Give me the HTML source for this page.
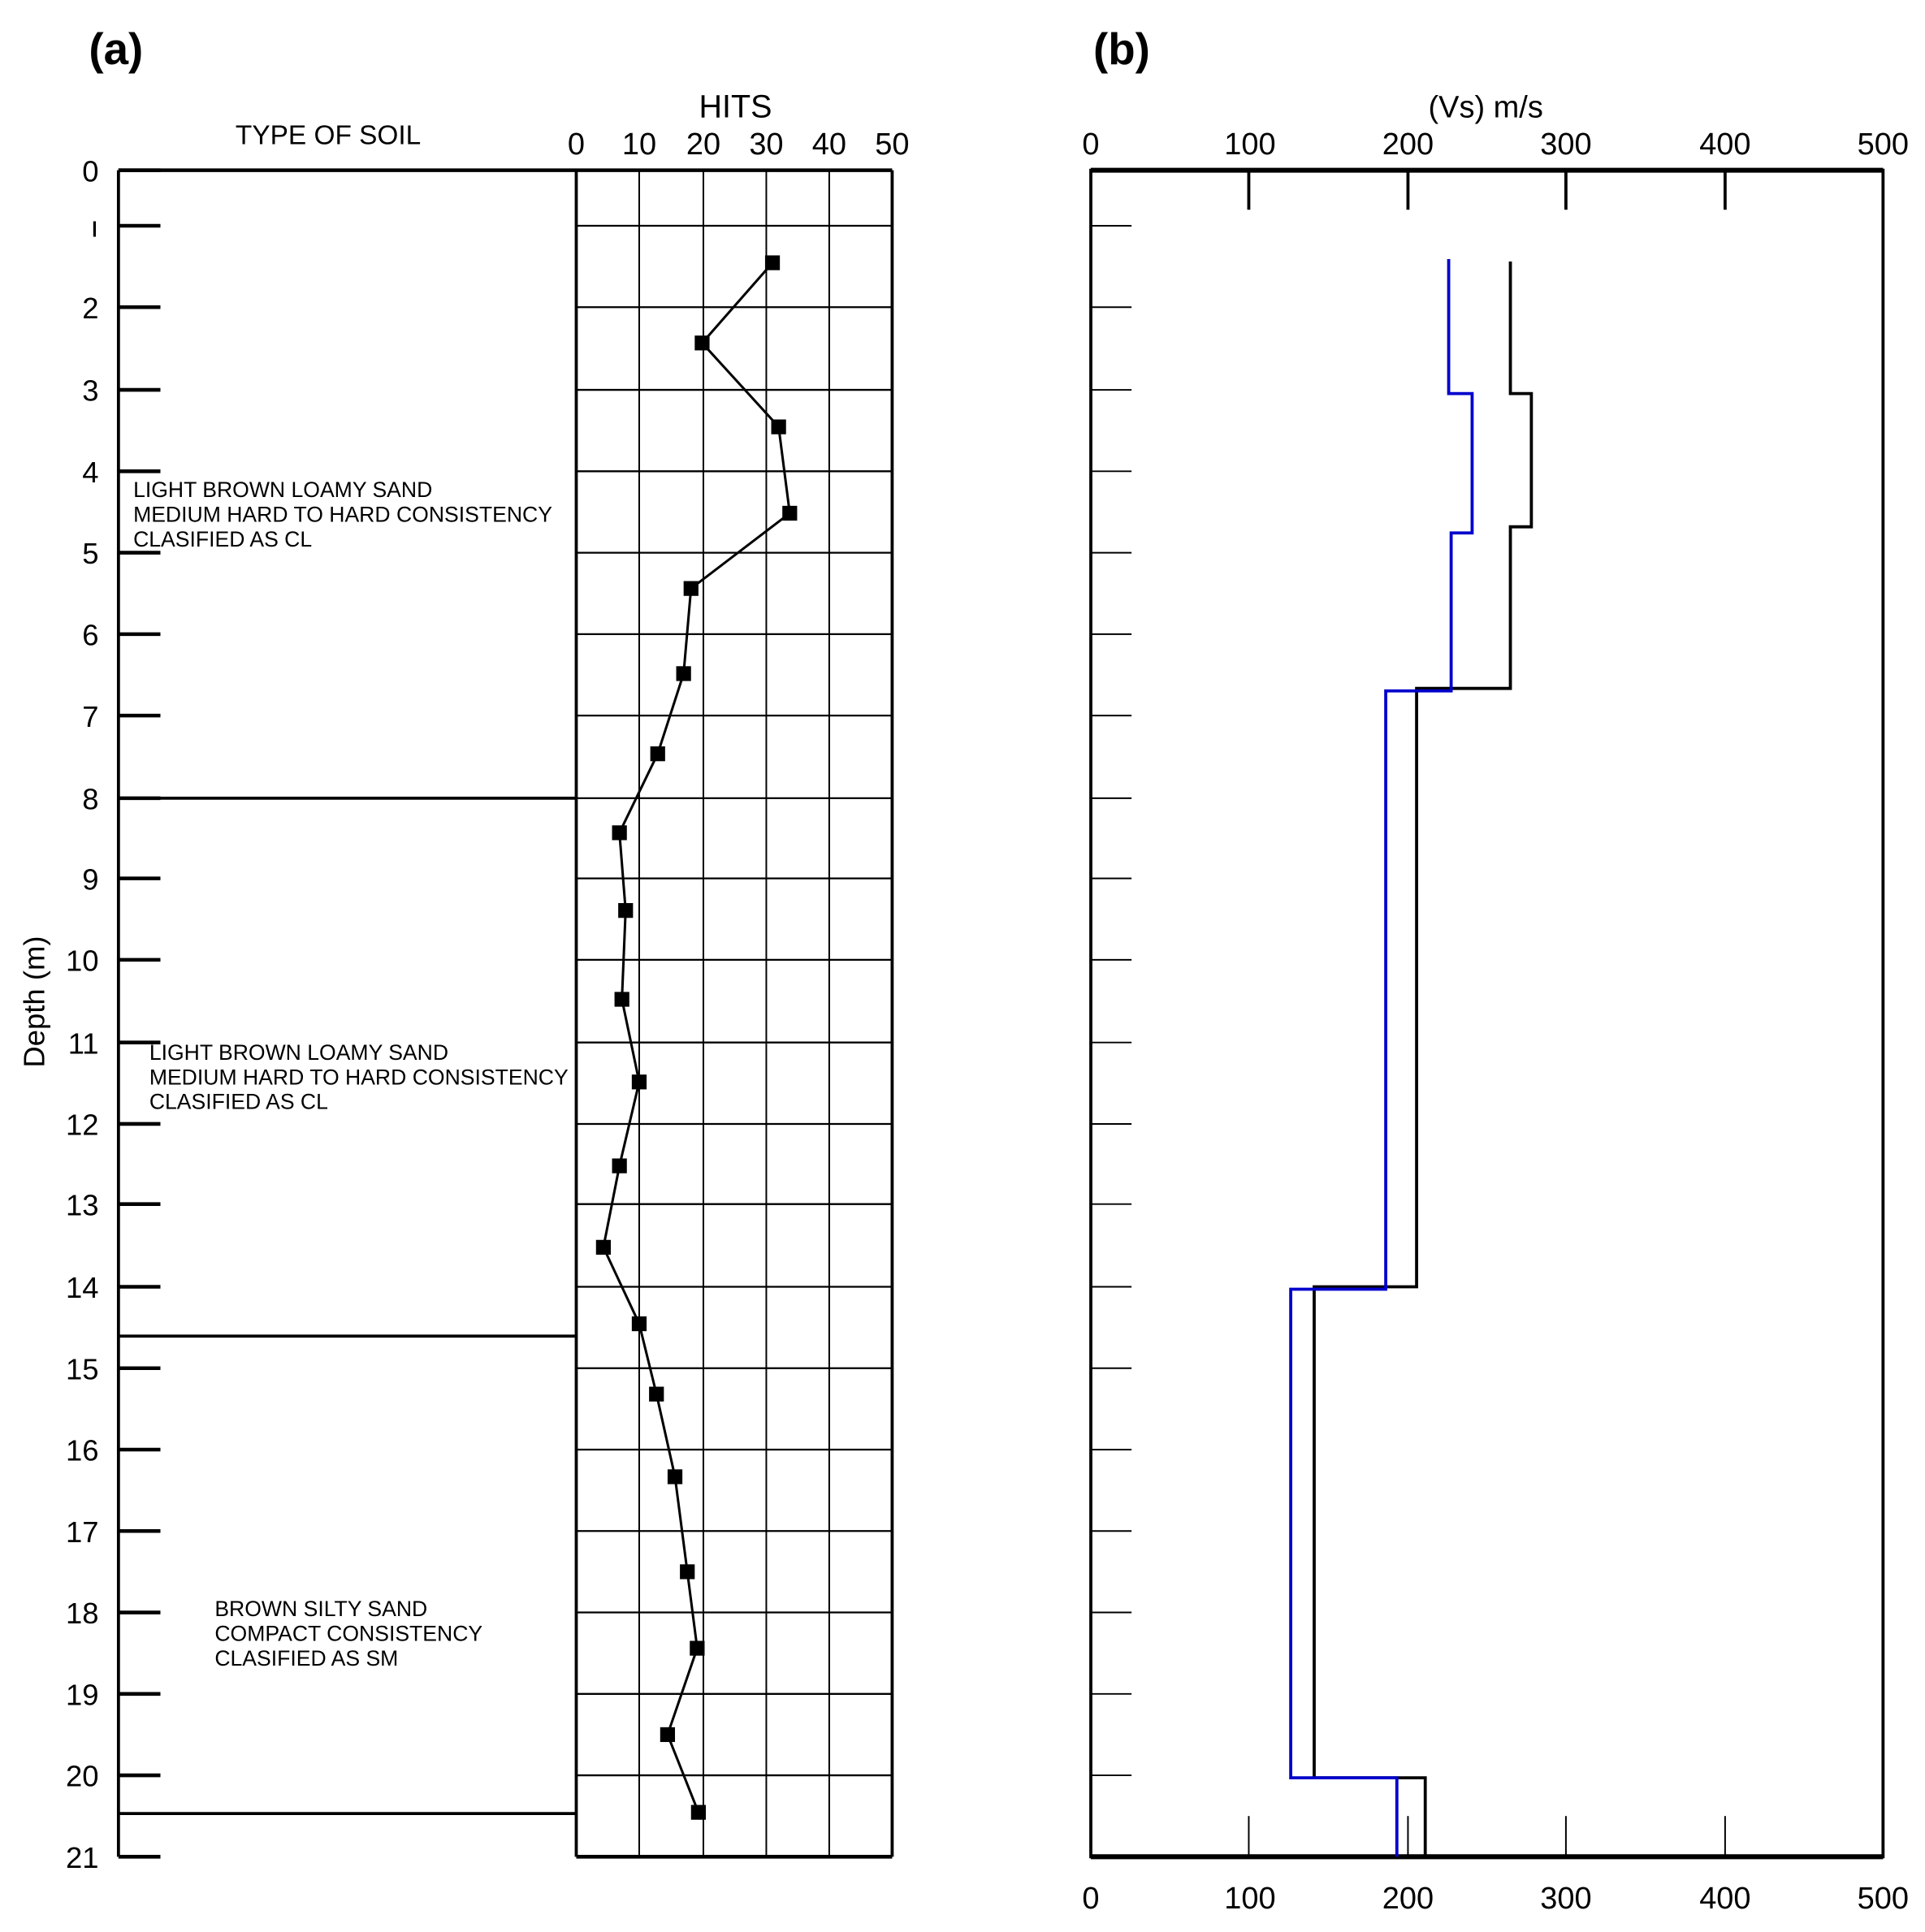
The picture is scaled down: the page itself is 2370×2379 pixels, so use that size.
<!DOCTYPE html>
<html><head><meta charset="utf-8"><style>html,body{margin:0;padding:0;background:#fff}svg{display:block}</style></head>
<body>
<svg width="2370" height="2379" viewBox="0 0 1560 1566" preserveAspectRatio="none" xmlns="http://www.w3.org/2000/svg" font-family="Liberation Sans, sans-serif">
<rect width="1560" height="1566" fill="#fff"/>
<text x="72" y="52" font-size="36" font-weight="bold">(a)</text>
<text x="886" y="52" font-size="36" font-weight="bold">(b)</text>
<text x="266" y="117" font-size="22" text-anchor="middle">TYPE OF SOIL</text>
<text x="596" y="95" font-size="26" text-anchor="middle">HITS</text>
<g font-size="25" text-anchor="middle">
<text x="467" y="125">0</text><text x="518" y="125">10</text><text x="570" y="125">20</text><text x="621" y="125">30</text><text x="672" y="125">40</text><text x="723" y="125">50</text>
</g>
<text transform="translate(36,812) rotate(-90)" font-size="24" text-anchor="middle">Depth  (m)</text>
<g stroke="#000" fill="none">
<line x1="96" y1="138" x2="96" y2="1505" stroke-width="2.5"/>
<line x1="96" y1="138" x2="723" y2="138" stroke-width="3"/>
<line x1="96" y1="647" x2="467" y2="647" stroke-width="2.5"/>
<line x1="96" y1="1083" x2="467" y2="1083" stroke-width="2.5"/>
<line x1="96" y1="1470" x2="467" y2="1470" stroke-width="2.5"/>
<line x1="467" y1="138" x2="467" y2="1505" stroke-width="2.5"/>
<line x1="723" y1="138" x2="723" y2="1505" stroke-width="2.5"/>
<line x1="467" y1="1505" x2="723" y2="1505" stroke-width="3"/>
<g stroke-width="1.3">
<line x1="518" y1="138" x2="518" y2="1505"/><line x1="570" y1="138" x2="570" y2="1505"/><line x1="621" y1="138" x2="621" y2="1505"/><line x1="672" y1="138" x2="672" y2="1505"/>
</g>
</g>
<g font-size="17.5">
<text x="108" y="403">LIGHT BROWN LOAMY SAND</text>
<text x="108" y="423">MEDIUM HARD TO HARD CONSISTENCY</text>
<text x="108" y="443">CLASIFIED AS CL</text>
<text x="121" y="859">LIGHT BROWN LOAMY SAND</text>
<text x="121" y="879">MEDIUM HARD TO HARD CONSISTENCY</text>
<text x="121" y="899">CLASIFIED AS CL</text>
<text x="174" y="1310">BROWN SILTY SAND</text>
<text x="174" y="1330">COMPACT CONSISTENCY</text>
<text x="174" y="1350">CLASIFIED AS SM</text>
</g>
<polyline fill="none" stroke="#000" stroke-width="2" points="626,213 569,278 631,346 640,416 560,477 554,546 533,611 502,675 507,738 504,810 518,877 502,945 489,1011 518,1073 532,1130 547,1197 557,1274 565,1336 541,1406 566,1469"/>
<g fill="#000">
<rect x="620" y="207" width="12" height="12"/><rect x="563" y="272" width="12" height="12"/><rect x="625" y="340" width="12" height="12"/><rect x="634" y="410" width="12" height="12"/><rect x="554" y="471" width="12" height="12"/><rect x="548" y="540" width="12" height="12"/><rect x="527" y="605" width="12" height="12"/><rect x="496" y="669" width="12" height="12"/><rect x="501" y="732" width="12" height="12"/><rect x="498" y="804" width="12" height="12"/><rect x="512" y="871" width="12" height="12"/><rect x="496" y="939" width="12" height="12"/><rect x="483" y="1005" width="12" height="12"/><rect x="512" y="1067" width="12" height="12"/><rect x="526" y="1124" width="12" height="12"/><rect x="541" y="1191" width="12" height="12"/><rect x="551" y="1268" width="12" height="12"/><rect x="559" y="1330" width="12" height="12"/><rect x="535" y="1400" width="12" height="12"/><rect x="560" y="1463" width="12" height="12"/>
</g>
<g stroke="#000" fill="none">
<rect x="884" y="138" width="642" height="1367" stroke-width="2.5"/>
<line x1="884" y1="138" x2="1526" y2="138" stroke-width="4"/>
<line x1="884" y1="1505" x2="1526" y2="1505" stroke-width="4"/>
<g stroke-width="2.5"><line x1="1012" y1="138" x2="1012" y2="170"/><line x1="1141" y1="138" x2="1141" y2="170"/><line x1="1269" y1="138" x2="1269" y2="170"/><line x1="1398" y1="138" x2="1398" y2="170"/></g>
<g stroke-width="1.3"><line x1="1012" y1="1472" x2="1012" y2="1505"/><line x1="1141" y1="1472" x2="1141" y2="1505"/><line x1="1269" y1="1472" x2="1269" y2="1505"/><line x1="1398" y1="1472" x2="1398" y2="1505"/></g>
</g>
<g font-size="25" text-anchor="middle">
<text x="1204" y="95">(Vs) m/s</text>
<text x="884" y="125">0</text><text x="1013" y="125">100</text><text x="1141" y="125">200</text><text x="1269" y="125">300</text><text x="1398" y="125">400</text><text x="1526" y="125">500</text>
<text x="884" y="1547">0</text><text x="1013" y="1547">100</text><text x="1141" y="1547">200</text><text x="1269" y="1547">300</text><text x="1398" y="1547">400</text><text x="1526" y="1547">500</text>
</g>
<polyline fill="none" stroke="#000" stroke-width="2.5" points="1224,212 1224,319 1241,319 1241,427 1224,427 1224,558 1148,558 1148,1043 1065,1043 1065,1441 1155,1441 1155,1505"/>
<polyline fill="none" stroke="#0000cc" stroke-width="2.5" points="1174,210 1174,319 1193,319 1193,432 1176,432 1176,560 1123,560 1123,1045 1046,1045 1046,1441 1132,1441 1132,1505"/>
<g id="depth"></g>
<script>
(function(){
var ns="http://www.w3.org/2000/svg",g=document.getElementById("depth");
var Y=[138,183,249,316,382,448,514,580,647,712,778,845,911,976,1043,1109,1175,1241,1307,1373,1439,1505];
function el(t,a,txt){var e=document.createElementNS(ns,t);for(var k in a)e.setAttribute(k,a[k]);if(txt!==undefined)e.textContent=txt;g.appendChild(e);}
for(var d=0;d<=21;d++){var y=Y[d];
el("line",{x1:96,y1:y,x2:130,y2:y,stroke:"#000","stroke-width":3});
if(d>0&&d<21){el("line",{x1:467,y1:y,x2:723,y2:y,stroke:"#000","stroke-width":1.5});}
if(d>0&&d<21){el("line",{x1:884,y1:y,x2:917,y2:y,stroke:"#000","stroke-width":1.3});}
el("text",{x:80,y:y+9,"font-size":24,"text-anchor":"end"},d==1?"ı":String(d));}
})();
</script>
</svg>
</body></html>
